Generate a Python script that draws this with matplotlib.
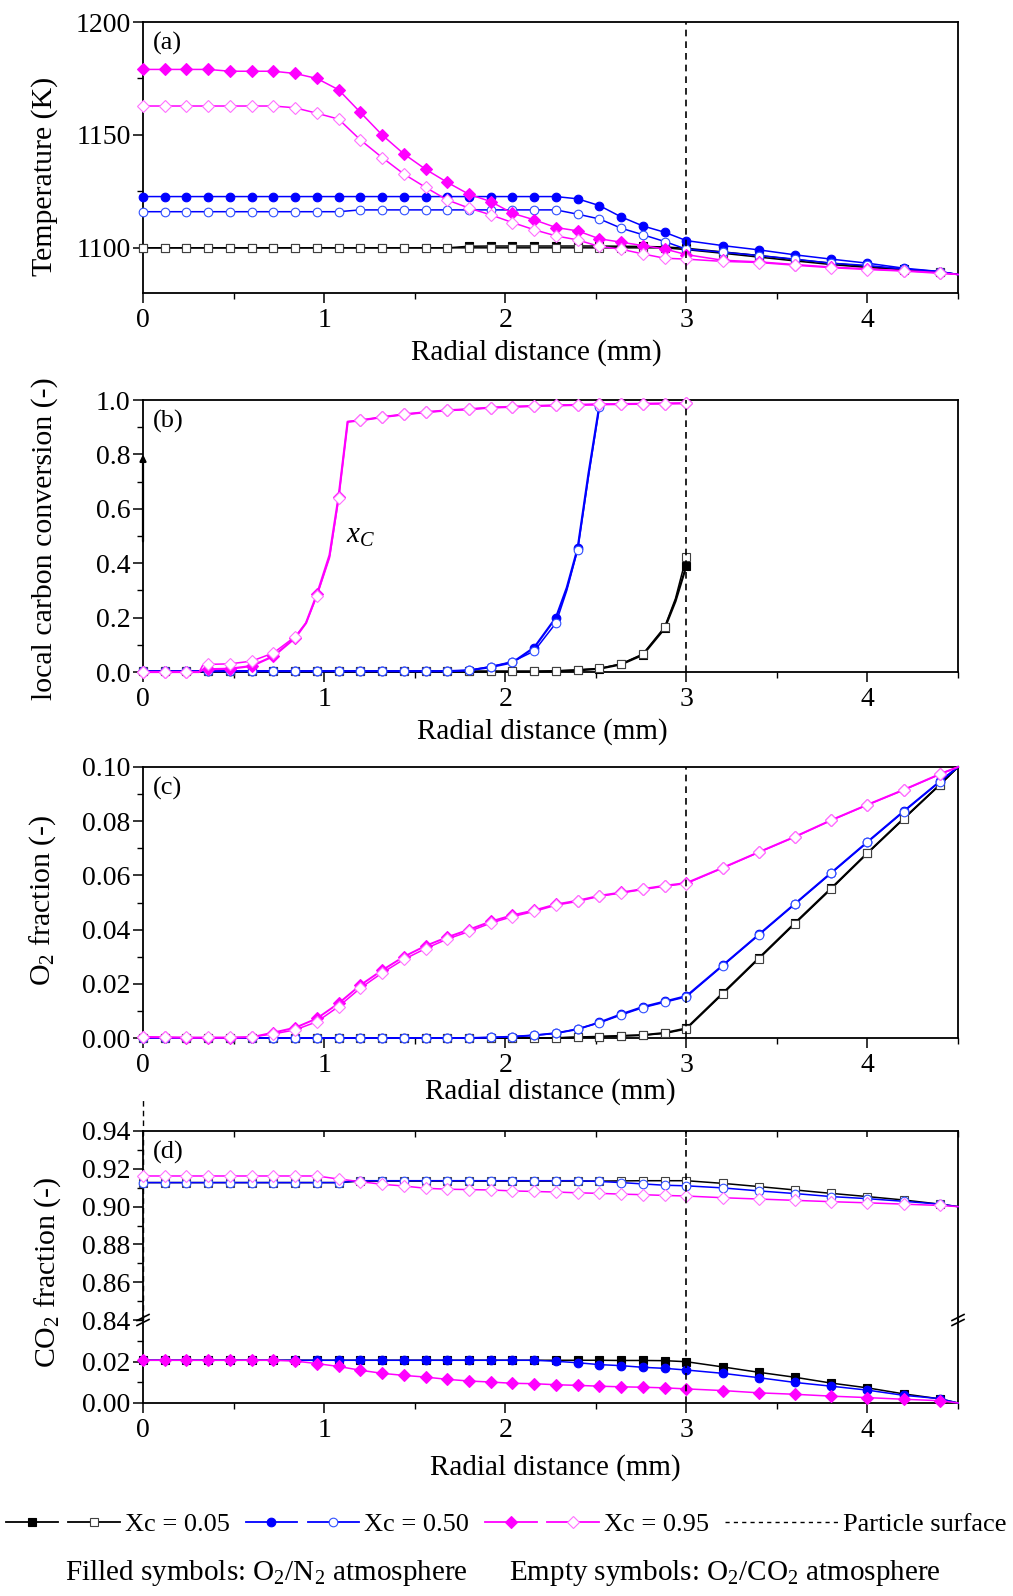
import numpy as np
import matplotlib
matplotlib.use("Agg")
import matplotlib.pyplot as plt
from matplotlib.lines import Line2D
from matplotlib.ticker import MultipleLocator, FormatStrFormatter
from matplotlib.legend_handler import HandlerTuple

plt.rcParams['font.family'] = 'Liberation Serif'
plt.rcParams['mathtext.fontset'] = 'custom'
plt.rcParams['mathtext.rm'] = 'Liberation Serif'
plt.rcParams['mathtext.it'] = 'Liberation Serif:italic'

# radial positions (mm); last point (4.5) has no marker
r = [0.00, 0.12, 0.24, 0.36, 0.48, 0.60, 0.72, 0.84, 0.96, 1.08, 1.20, 1.32,
     1.44, 1.56, 1.68, 1.80, 1.92, 2.04, 2.16, 2.28, 2.40, 2.52, 2.64, 2.76,
     2.88, 3.00, 3.20, 3.40, 3.60, 3.80, 4.00, 4.20, 4.40, 4.50]

# (a) temperature (K)
T_k_f = [1100.0, 1100.0, 1100.0, 1100.0, 1100.0, 1100.0, 1100.0, 1100.0, 1100.0, 1100.0, 1100.0, 1100.0,
         1100.0, 1100.0, 1100.0, 1100.7, 1100.8, 1100.8, 1100.8, 1100.8, 1100.8, 1100.8, 1100.7, 1100.6,
         1100.4, 1099.8, 1098.2, 1096.6, 1094.8, 1093.2, 1091.8, 1090.6, 1089.3, 1088.2]
T_k_e = [1100.0, 1100.0, 1100.0, 1100.0, 1100.0, 1100.0, 1100.0, 1100.0, 1100.0, 1100.0, 1100.0, 1100.0,
         1100.0, 1100.0, 1100.0, 1100.0, 1100.0, 1100.0, 1100.0, 1100.0, 1100.0, 1100.0, 1100.0, 1100.0,
         1100.0, 1099.2, 1097.6, 1095.9, 1094.2, 1092.6, 1091.3, 1090.3, 1089.1, 1088.2]
T_b_f = [1122.7, 1122.7, 1122.7, 1122.7, 1122.7, 1122.7, 1122.7, 1122.7, 1122.7, 1122.7, 1122.7, 1122.7,
         1122.7, 1122.7, 1122.7, 1122.7, 1122.7, 1122.7, 1122.7, 1122.7, 1121.7, 1118.7, 1113.7, 1109.7,
         1106.9, 1103.2, 1101.0, 1099.1, 1096.9, 1095.0, 1093.2, 1091.0, 1089.5, 1088.2]
T_b_e = [1116.0, 1116.0, 1116.0, 1116.0, 1116.0, 1116.0, 1116.0, 1116.0, 1116.0, 1116.0, 1116.8, 1116.8,
         1116.8, 1116.8, 1116.8, 1116.8, 1116.8, 1116.8, 1116.8, 1116.8, 1114.9, 1112.8, 1108.7, 1105.8,
         1102.8, 1099.4, 1098.1, 1096.6, 1095.0, 1093.2, 1092.2, 1090.6, 1089.5, 1088.2]
T_m_f = [1179.0, 1179.0, 1179.0, 1179.0, 1178.2, 1178.2, 1178.2, 1177.2, 1175.0, 1170.0, 1160.0, 1150.0,
         1141.6, 1134.8, 1129.0, 1123.7, 1120.5, 1115.3, 1112.4, 1109.0, 1107.5, 1104.0, 1102.5, 1101.0,
         1099.5, 1097.0, 1094.5, 1093.8, 1092.6, 1091.5, 1090.7, 1089.9, 1089.0, 1088.2]
T_m_e = [1162.8, 1162.8, 1162.8, 1162.8, 1162.8, 1162.8, 1162.8, 1162.0, 1159.6, 1157.0, 1147.8, 1140.0,
         1132.7, 1126.8, 1121.2, 1117.6, 1114.6, 1111.2, 1108.0, 1105.3, 1103.5, 1100.6, 1099.4, 1097.3,
         1095.4, 1095.0, 1094.0, 1093.5, 1092.3, 1091.2, 1090.4, 1089.7, 1088.7, 1088.2]

# (b) local carbon conversion, inside the particle only (extra points mark kinks)
rb_m = [0.00, 0.12, 0.24, 0.31, 0.33, 0.36, 0.48, 0.60, 0.72, 0.84, 0.90, 0.96, 1.03, 1.08, 1.13,
        1.20, 1.32, 1.44, 1.56, 1.68, 1.80, 1.92, 2.04, 2.16, 2.28, 2.40, 2.52, 2.64, 2.76, 2.88, 3.00]
X_m_f = [0.0, 0.0, 0.0, 0.0, 0.008, 0.010, 0.012, 0.022, 0.058, 0.125, 0.18, 0.285, 0.43, 0.645, 0.92,
         0.925, 0.937, 0.947, 0.955, 0.962, 0.966, 0.972, 0.975, 0.978, 0.980, 0.982, 0.984, 0.985, 0.986, 0.987, 0.988]
X_m_e = [0.0, 0.0, 0.0, 0.0, 0.025, 0.028, 0.030, 0.040, 0.070, 0.130, 0.18, 0.280, 0.42, 0.638, 0.92,
         0.925, 0.937, 0.947, 0.955, 0.962, 0.966, 0.972, 0.975, 0.978, 0.980, 0.982, 0.984, 0.985, 0.986, 0.987, 0.988]
rb_b = [0.00, 0.12, 0.24, 0.36, 0.48, 0.60, 0.72, 0.84, 0.96, 1.08, 1.20, 1.32, 1.44, 1.56, 1.68,
        1.80, 1.92, 2.04, 2.16, 2.28, 2.34, 2.40, 2.46, 2.52]
X_b_f = [0.003, 0.003, 0.003, 0.003, 0.003, 0.003, 0.003, 0.003, 0.003, 0.003, 0.003, 0.003, 0.003, 0.003, 0.003,
         0.006, 0.018, 0.035, 0.090, 0.200, 0.31, 0.455, 0.73, 0.980]
X_b_e = [0.003, 0.003, 0.003, 0.003, 0.003, 0.003, 0.003, 0.003, 0.003, 0.003, 0.003, 0.003, 0.003, 0.003, 0.003,
         0.006, 0.020, 0.038, 0.077, 0.180, 0.30, 0.450, 0.72, 0.975]
rb_k = [0.00, 0.12, 0.24, 0.36, 0.48, 0.60, 0.72, 0.84, 0.96, 1.08, 1.20, 1.32, 1.44, 1.56, 1.68,
        1.80, 1.92, 2.04, 2.16, 2.28, 2.40, 2.52, 2.64, 2.76, 2.88, 2.94, 3.00]
X_k_f = [0.002, 0.002, 0.002, 0.002, 0.002, 0.002, 0.002, 0.002, 0.002, 0.002, 0.002, 0.002, 0.002, 0.002, 0.002,
         0.002, 0.002, 0.002, 0.002, 0.003, 0.006, 0.012, 0.028, 0.063, 0.160, 0.26, 0.390]
X_k_e = [0.002, 0.002, 0.002, 0.002, 0.002, 0.002, 0.002, 0.002, 0.002, 0.002, 0.002, 0.002, 0.002, 0.002, 0.002,
         0.002, 0.002, 0.002, 0.002, 0.004, 0.008, 0.013, 0.030, 0.066, 0.165, 0.27, 0.424]

# (c) O2 fraction
O_k_f = [0.0, 0.0, 0.0, 0.0, 0.0, 0.0, 0.0, 0.0, 0.0, 0.0, 0.0, 0.0,
         0.0, 0.0, 0.0, 0.0, 0.0, 0.0, 0.0, 0.0, 0.0003, 0.0005, 0.0008, 0.0011,
         0.0019, 0.0036, 0.0165, 0.0295, 0.0425, 0.0553, 0.0683, 0.0810, 0.0935, 0.1000]
O_k_e = [0.0, 0.0, 0.0, 0.0, 0.0, 0.0, 0.0, 0.0, 0.0, 0.0, 0.0, 0.0,
         0.0, 0.0, 0.0, 0.0, 0.0, 0.0, 0.0, 0.0, 0.0003, 0.0005, 0.0008, 0.0010,
         0.0017, 0.0033, 0.0162, 0.0292, 0.0422, 0.0550, 0.0681, 0.0808, 0.0934, 0.1000]
O_b_f = [0.0, 0.0, 0.0, 0.0, 0.0, 0.0, 0.0, 0.0, 0.0, 0.0, 0.0, 0.0,
         0.0, 0.0, 0.0, 0.0, 0.0002, 0.0005, 0.0010, 0.0018, 0.0032, 0.0058, 0.0088, 0.0115,
         0.0135, 0.0155, 0.0268, 0.0382, 0.0496, 0.0610, 0.0724, 0.0837, 0.0947, 0.1000]
O_b_e = [0.0, 0.0, 0.0, 0.0, 0.0, 0.0, 0.0, 0.0, 0.0, 0.0, 0.0, 0.0,
         0.0, 0.0, 0.0, 0.0, 0.0002, 0.0005, 0.0010, 0.0017, 0.0034, 0.0056, 0.0085, 0.0112,
         0.0132, 0.0152, 0.0266, 0.0380, 0.0494, 0.0608, 0.0722, 0.0835, 0.0946, 0.1000]
O_m_f = [0.0003, 0.0002, 0.0001, 0.0001, 0.0001, 0.0003, 0.0020, 0.0038, 0.0072, 0.0128, 0.0195, 0.0250,
         0.0300, 0.0340, 0.0372, 0.0400, 0.0430, 0.0453, 0.0471, 0.0493, 0.0507, 0.0525, 0.0537, 0.0550,
         0.0562, 0.0572, 0.0628, 0.0686, 0.0743, 0.0804, 0.0861, 0.0916, 0.0974, 0.1000]
O_m_e = [0.0005, 0.0003, 0.0002, 0.0002, 0.0002, 0.0004, 0.0015, 0.0030, 0.0060, 0.0116, 0.0184, 0.0240,
         0.0290, 0.0330, 0.0365, 0.0393, 0.0424, 0.0448, 0.0467, 0.0490, 0.0504, 0.0523, 0.0535, 0.0548,
         0.0560, 0.0570, 0.0627, 0.0685, 0.0742, 0.0803, 0.0860, 0.0915, 0.0973, 0.1000]

# (d) CO2 fraction: O2/CO2 cases (upper part) and O2/N2 cases (lower part)
C_k_e = [0.9127, 0.9127, 0.9127, 0.9127, 0.9127, 0.9127, 0.9127, 0.9127, 0.9127, 0.9127, 0.9135, 0.9135,
         0.9135, 0.9135, 0.9135, 0.9135, 0.9135, 0.9135, 0.9135, 0.9135, 0.9135, 0.9135, 0.9136, 0.9137,
         0.9137, 0.9137, 0.9123, 0.9106, 0.9088, 0.9070, 0.9053, 0.9035, 0.9013, 0.9000]
C_b_e = [0.9127, 0.9127, 0.9127, 0.9127, 0.9127, 0.9127, 0.9127, 0.9127, 0.9127, 0.9127, 0.9137, 0.9137,
         0.9137, 0.9137, 0.9137, 0.9137, 0.9137, 0.9137, 0.9137, 0.9137, 0.9137, 0.9133, 0.9127, 0.9120,
         0.9113, 0.9110, 0.9099, 0.9083, 0.9069, 0.9053, 0.9042, 0.9028, 0.9013, 0.9000]
C_m_e = [0.9162, 0.9162, 0.9162, 0.9162, 0.9162, 0.9162, 0.9162, 0.9162, 0.9162, 0.9146, 0.9132, 0.9118,
         0.9109, 0.9097, 0.9092, 0.9090, 0.9088, 0.9083, 0.9080, 0.9077, 0.9073, 0.9070, 0.9066, 0.9063,
         0.9059, 0.9056, 0.9047, 0.9040, 0.9033, 0.9026, 0.9020, 0.9013, 0.9006, 0.9000]
C_k_f = [0.0206, 0.0206, 0.0206, 0.0206, 0.0206, 0.0206, 0.0206, 0.0206, 0.0206, 0.0206, 0.0206, 0.0206,
         0.0206, 0.0206, 0.0206, 0.0206, 0.0206, 0.0206, 0.0206, 0.0206, 0.0206, 0.0206, 0.0205, 0.0205,
         0.0204, 0.0199, 0.0174, 0.0148, 0.0124, 0.0096, 0.0073, 0.0044, 0.0020, 0.0000]
C_b_f = [0.0206, 0.0206, 0.0206, 0.0206, 0.0206, 0.0206, 0.0206, 0.0206, 0.0206, 0.0206, 0.0206, 0.0206,
         0.0206, 0.0206, 0.0206, 0.0206, 0.0206, 0.0206, 0.0206, 0.0201, 0.0194, 0.0185, 0.0180, 0.0172,
         0.0167, 0.0159, 0.0143, 0.0122, 0.0099, 0.0081, 0.0062, 0.0037, 0.0021, 0.0000]
C_m_f = [0.0206, 0.0206, 0.0206, 0.0206, 0.0206, 0.0206, 0.0206, 0.0202, 0.0190, 0.0176, 0.0158, 0.0143,
         0.0133, 0.0125, 0.0114, 0.0106, 0.0101, 0.0095, 0.0093, 0.0088, 0.0085, 0.0081, 0.0078, 0.0076,
         0.0073, 0.0068, 0.0060, 0.0049, 0.0042, 0.0033, 0.0026, 0.0018, 0.0011, 0.0000]

MAGENTA = '#FF00FF'
BLUE = '#0000FF'
styles = {
    'k_f': dict(color='black', marker='s', ms=5.2, mfc='black', mec='black'),
    'k_e': dict(color='black', marker='s', ms=5.2, mfc='white', mec='#404040'),
    'b_f': dict(color=BLUE, marker='o', ms=6.2, mfc=BLUE, mec=BLUE),
    'b_e': dict(color=BLUE, marker='o', ms=6.2, mfc='white', mec='#3050FF'),
    'm_f': dict(color=MAGENTA, marker='D', ms=5.8, mfc=MAGENTA, mec=MAGENTA),
    'm_e': dict(color=MAGENTA, marker='D', ms=5.8, mfc='white', mec='#FF70FF'),
}
mark_grid = np.round(r[:-1], 2)


def draw(ax, x, y, key, lw=1.1):
    mask = list(np.isin(np.round(x, 2), mark_grid))
    return ax.plot(x, y, lw=lw, markevery=mask, mew=0.8, clip_on=False, zorder=3, **styles[key])[0]


def style_axis(ax, ymajor, yminor):
    ax.set_xlim(0, 4.5)
    ax.xaxis.set_major_locator(MultipleLocator(1))
    ax.xaxis.set_minor_locator(MultipleLocator(0.5))
    ax.yaxis.set_major_locator(MultipleLocator(ymajor))
    ax.yaxis.set_minor_locator(MultipleLocator(yminor))
    ax.tick_params(which='major', direction='out', length=7, width=1.1, labelsize=20, pad=4)
    ax.tick_params(axis='y', which='major', pad=2)
    ax.tick_params(which='minor', direction='out', length=4, width=1.0)
    ax.tick_params(axis='x', which='both', top=False)
    ax.tick_params(axis='y', which='both', right=False)
    for s in ax.spines.values():
        s.set_linewidth(1.3)


W, H = 1013, 1596
fig = plt.figure(figsize=(W / 100, H / 100), dpi=100)


def axes_px(x0, x1, y0, y1):
    return fig.add_axes([x0 / W, 1 - y1 / H, (x1 - x0) / W, (y1 - y0) / H])


X0, X1 = 143, 958
AXW = X1 - X0
ax_a = axes_px(X0, X1, 22, 293)
ax_b = axes_px(X0, X1, 400, 672)
ax_c = axes_px(X0, X1, 767, 1038)
ax_du = axes_px(X0, X1, 1131, 1320)
ax_dl = axes_px(X0, X1, 1320, 1403)

xlabel = 'Radial distance (mm)'

# (a)
for y, k in [(T_k_f, 'k_f'), (T_k_e, 'k_e'), (T_b_f, 'b_f'), (T_b_e, 'b_e'), (T_m_f, 'm_f'), (T_m_e, 'm_e')]:
    draw(ax_a, r, y, k)
ax_a.set_ylim(1080, 1200)
style_axis(ax_a, 50, 25)
ax_a.set_ylabel('Temperature (K)', fontsize=21.5)

# (b)
draw(ax_b, rb_k, X_k_f, 'k_f', lw=1.6)
draw(ax_b, rb_k, X_k_e, 'k_e')
draw(ax_b, rb_b, X_b_f, 'b_f', lw=1.6)
draw(ax_b, rb_b, X_b_e, 'b_e')
draw(ax_b, rb_m, X_m_f, 'm_f', lw=1.6)
draw(ax_b, rb_m, X_m_e, 'm_e')
ax_b.set_ylim(0, 1.0)
style_axis(ax_b, 0.2, 0.1)
ax_b.yaxis.set_major_formatter(FormatStrFormatter('%.1f'))
ax_b.set_ylabel('local carbon conversion (-)', fontsize=21.5)
ax_b.text(1.12, 0.50, r'$x_C$', fontsize=21, ha='left', va='center')
ax_b.annotate('', xy=(0.0, 0.81), xytext=(0.0, 0.47),
              arrowprops=dict(arrowstyle='-|>', color='black', lw=1.6, mutation_scale=9),
              annotation_clip=False)

# (c)
for y, k in [(O_k_f, 'k_f'), (O_k_e, 'k_e'), (O_b_f, 'b_f'), (O_b_e, 'b_e'), (O_m_f, 'm_f'), (O_m_e, 'm_e')]:
    draw(ax_c, r, y, k, lw=1.4 if k.endswith('f') else 1.1)
ax_c.set_ylim(0, 0.10)
style_axis(ax_c, 0.02, 0.01)
ax_c.yaxis.set_major_formatter(FormatStrFormatter('%.2f'))
ax_c.set_ylabel(r'O$_2$ fraction (-)', fontsize=21.5)

# (d) broken axis
for y, k in [(C_k_e, 'k_e'), (C_b_e, 'b_e'), (C_m_e, 'm_e')]:
    draw(ax_du, r, y, k)
for y, k in [(C_k_f, 'k_f'), (C_b_f, 'b_f'), (C_m_f, 'm_f')]:
    draw(ax_dl, r, y, k)
ax_du.set_ylim(0.84, 0.94)
ax_dl.set_ylim(0, 0.04)
style_axis(ax_du, 0.02, 0.01)
style_axis(ax_dl, 0.02, 0.01)
ax_dl.set_yticks([0.0, 0.02])
ax_du.yaxis.set_major_formatter(FormatStrFormatter('%.2f'))
ax_dl.yaxis.set_major_formatter(FormatStrFormatter('%.2f'))
ax_du.spines['bottom'].set_visible(False)
ax_dl.spines['top'].set_visible(False)
ax_du.tick_params(axis='x', which='both', bottom=False, labelbottom=False, top=True,
                  direction='in', length=4)
fig.text(48 / W, 1 - 1272 / H, r'CO$_2$ fraction (-)', rotation=90, fontsize=21.5,
         ha='center', va='center')
ax_du.axvline(0, ymin=0, ymax=1.18, color='black', ls=(0, (4, 3)), lw=1.0, clip_on=False)

# break marks
for xb in (X0, X1):
    for dy in (-2.5, 2.5):
        fig.add_artist(Line2D([(xb - 6) / W, (xb + 6) / W],
                              [1 - (1320 + dy + 3) / H, 1 - (1320 + dy - 3) / H],
                              color='black', lw=1.2))

# particle surface + x labels (the source has them slightly off-centre)
for ax, off, pad in [(ax_a, -14, 4), (ax_b, -8, 4), (ax_c, 0, 0), (ax_dl, 5, 8)]:
    ax.set_xlabel(xlabel, fontsize=21, labelpad=pad)
    ax.xaxis.label.set_x(0.5 + off / AXW)
for ax in (ax_a, ax_b, ax_c, ax_du, ax_dl):
    ax.axvline(3.0, color='black', ls=(0, (4, 3)), lw=1.2, zorder=4)

for ax, lab in [(ax_a, '(a)'), (ax_b, '(b)'), (ax_c, '(c)'), (ax_du, '(d)')]:
    ax.text(0.012, 1 - 21 / (ax.bbox.height), lab, transform=ax.transAxes, fontsize=19,
            ha='left', va='center')

ax_a.yaxis.set_label_coords(-0.104, 0.43)
ax_b.yaxis.set_label_coords(-0.104, 0.49)
ax_c.yaxis.set_label_coords(-0.104, 0.51)

# legend
def proxy(k):
    return Line2D([], [], lw=1.3, mew=0.8, **styles[k])

handles = [(proxy('k_f'), proxy('k_e')), (proxy('b_f'), proxy('b_e')),
           (proxy('m_f'), proxy('m_e')),
           Line2D([], [], color='black', ls=(0, (3, 3)), lw=1.0)]
labels = ['Xc = 0.05', 'Xc = 0.50', 'Xc = 0.95', 'Particle surface']
fig.legend(handles, labels, loc='center', bbox_to_anchor=(0.5, 1 - 1524 / H), ncol=4,
           frameon=False, fontsize=19, handlelength=4.3, handletextpad=0.2,
           columnspacing=0.6, handler_map={tuple: HandlerTuple(ndivide=None, pad=0.4)})

fig.text(468 / W, 1 - 1573 / H, r'Filled symbols: O$_2$/N$_2$ atmosphere', fontsize=21,
         ha='right', va='center')
fig.text(509 / W, 1 - 1573 / H, r'Empty symbols: O$_2$/CO$_2$ atmosphere', fontsize=21,
         ha='left', va='center')

fig.savefig('out.png', dpi=100)
